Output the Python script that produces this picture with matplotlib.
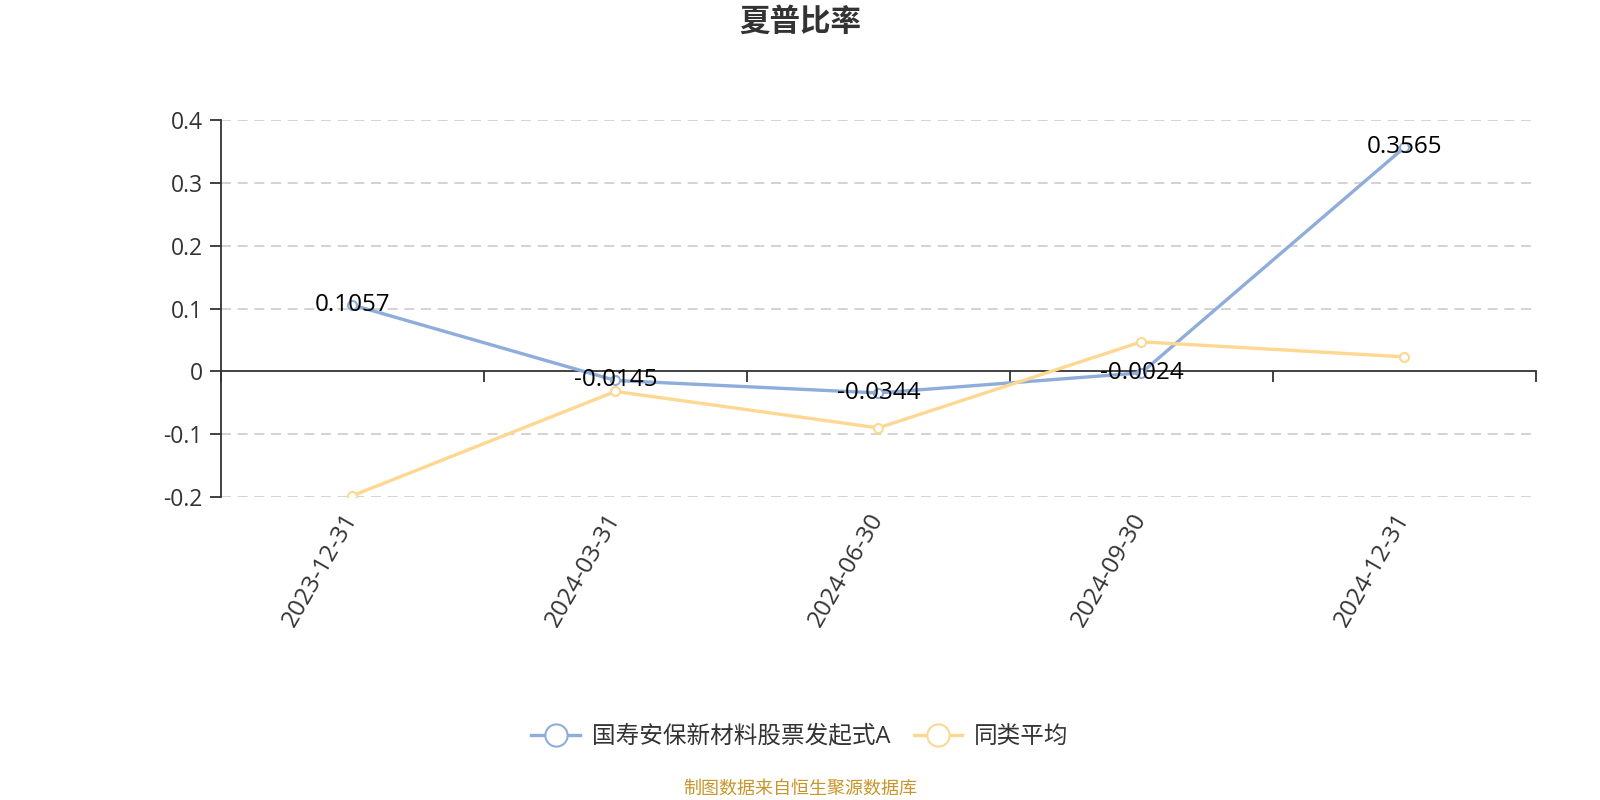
import matplotlib.pyplot as plt

plt.rcParams['font.family'] = ['Open Sans', 'Noto Sans CJK SC', 'DejaVu Sans']

dates = ['2023-12-31', '2024-03-31', '2024-06-30', '2024-09-30', '2024-12-31']
fund = [0.1057, -0.0145, -0.0344, -0.0024, 0.3565]
peer = [-0.198, -0.032, -0.090, 0.047, 0.023]
fund_name = '国寿安保新材料股票发起式A'
peer_name = '同类平均'
yticks = [-0.2, -0.1, 0, 0.1, 0.2, 0.3, 0.4]

blue = '#8eaddb'
yellow = '#fed892'
dark = '#333333'

fig = plt.figure(figsize=(16, 8), dpi=100)
ax = fig.add_axes([0.138, 0.37875, 0.822, 0.47125])

x = list(range(len(dates)))
ax.plot(x, fund, color=blue, lw=2.4, marker='o', ms=6.5, mfc='white',
        mec=blue, mew=1.5, label=fund_name, zorder=3)
ax.plot(x, peer, color=yellow, lw=2.4, marker='o', ms=6.5, mfc='white',
        mec=yellow, mew=1.5, label=peer_name, zorder=3)

for xi, v in zip(x, fund):
    ax.annotate(f'{v:.4f}', (xi, v), xytext=(0, 0), textcoords='offset points',
                ha='center', va='center', fontsize=17.5, color='black', zorder=4)

ax.set_xlim(-0.5, len(dates) - 0.5)
ax.set_ylim(-0.2, 0.4)
ax.set_yticks(yticks)
ax.set_yticklabels(['0' if t == 0 else f'{t:g}' for t in yticks])
ax.tick_params(axis='y', length=8, width=1.3, color=dark, labelsize=16.5,
               labelcolor=dark, pad=5)
for t in yticks:
    if t != 0:
        ax.axhline(t, color='#cccccc', lw=1.2, ls=(0, (6, 4)), zorder=1)

ax.set_xticks(x)
ax.set_xticklabels(dates, rotation=60, ha='right', va='center',
                   rotation_mode='anchor', fontsize=17.5, color=dark)
ax.tick_params(axis='x', length=0, pad=13)

for s in ['top', 'right', 'bottom']:
    ax.spines[s].set_visible(False)
ax.spines['left'].set_color(dark)
ax.spines['left'].set_linewidth(1.3)

# zero line axis with ticks at category boundaries
zero = ax.secondary_xaxis(0.2 / 0.6)
zero.set_xticks([i - 0.5 for i in range(len(dates) + 1)])
zero.set_xticklabels([])
zero.tick_params(length=8, width=1.3, color=dark)
zero.spines['bottom'].set_color(dark)
zero.spines['bottom'].set_linewidth(1.3)

fig.text(0.5, 0.972, '夏普比率', ha='center', va='center', fontsize=22,
         fontweight='bold', color=dark)

leg = fig.legend(loc='center', ncol=2, frameon=False, fontsize=17,
                 labelcolor=dark, handlelength=2.05, columnspacing=1.0,
                 handletextpad=0.5)
leg.set_bbox_to_anchor((0.5, 1 - 737 / 800), transform=fig.transFigure)
for h in leg.legend_handles:
    h.set_markersize(16)
    h.set_markeredgewidth(1.5)

fig.text(0.5, 1 - 789 / 800, '制图数据来自恒生聚源数据库', ha='center',
         va='center', fontsize=13, color='#c8952a')

fig.savefig('out.png', dpi=100)
